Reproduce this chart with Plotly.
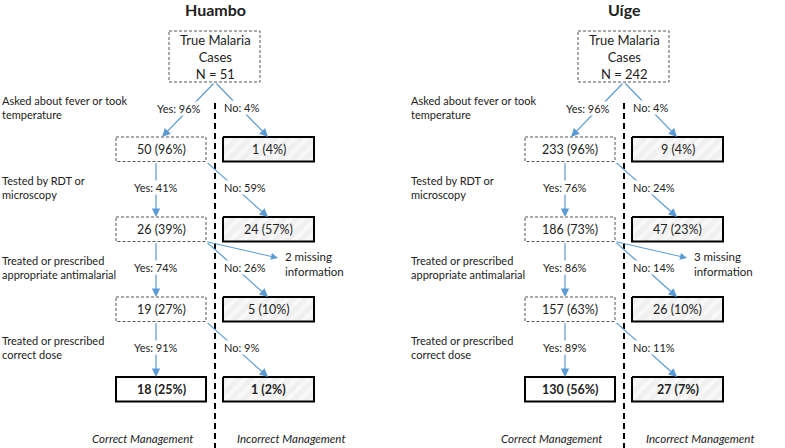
import plotly.graph_objects as go

# ---- data ----
sites = ['Huambo', 'Uíge']
totals = [51, 242]
step_labels = [
    'Asked about fever or took<br>temperature',
    'Tested by RDT or<br>microscopy',
    'Treated or prescribed<br>appropriate antimalarial',
    'Treated or prescribed<br>correct dose',
]
yes_pct = [[96, 41, 74, 91], [96, 76, 86, 89]]
no_pct = [[4, 59, 26, 9], [4, 24, 14, 11]]
correct_n = [[50, 26, 19, 18], [233, 186, 157, 130]]
correct_pct = [[96, 39, 27, 25], [96, 73, 63, 56]]
incorrect_n = [[1, 24, 5, 1], [9, 47, 26, 27]]
incorrect_pct = [[4, 57, 10, 2], [4, 23, 10, 7]]
missing = [2, 3]

# ---- layout constants (pixel space) ----
W, H = 785, 448
FONT = 'Lato, Open Sans, sans-serif'
TXT = '#222222'
BLUE = '#5b9bd5'
OFFSETS = [0, 409]
ROW_TOP = [137, 217, 297, 377]
BOX_H = 24.5
LX0, LX1 = 116, 206
RX0, RX1 = 223, 314
DIV_X = 215

fig = go.Figure()
shapes = []


def text(x, y, s, size=11, xanchor='center', bold=False, italic=False, bg=None):
    if bold:
        s = '<b>' + s + '</b>'
    if italic:
        s = '<i>' + s + '</i>'
    a = dict(x=x, y=y, xref='x', yref='y', text=s, showarrow=False,
             xanchor=xanchor, yanchor='middle', align=xanchor if xanchor != 'center' else 'center',
             font=dict(family=FONT, size=size, color=TXT))
    if bg:
        a['bgcolor'] = bg
        a['borderpad'] = 0
    return a


def arrow(x0, y0, x1, y1, width=1.2):
    return dict(x=x1, y=y1, ax=x0, ay=y0, xref='x', yref='y', axref='x', ayref='y',
                text='', showarrow=True, arrowhead=2, arrowsize=1.4, arrowwidth=width,
                arrowcolor=BLUE, standoff=0, startstandoff=0)


arrows = []
labels = []

for s, off in enumerate(OFFSETS):
    cx = DIV_X + off
    # title
    labels.append(text(cx, 9, sites[s], size=16, bold=True))
    # top box
    shapes.append(dict(type='rect', x0=169 + off, x1=260 + off, y0=31, y1=82,
                       line=dict(color='#555555', width=1, dash='3px,2px'), fillcolor='white'))
    labels.append(text(cx, 57, 'True Malaria<br>Cases<br>N = %d' % totals[s], size=13))
    # divider
    shapes.append(dict(type='line', x0=cx, x1=cx, y0=103, y1=H,
                       line=dict(color='black', width=2, dash='6px,4px')))

    for r in range(4):
        y0 = ROW_TOP[r]
        y1 = y0 + BOX_H
        ym = (y0 + y1) / 2
        last = r == 3
        # left (correct) box
        if last:
            shapes.append(dict(type='rect', x0=LX0 + off, x1=LX1 + off, y0=y0, y1=y1,
                               line=dict(color='black', width=2), fillcolor='white'))
        else:
            shapes.append(dict(type='rect', x0=LX0 + off, x1=LX1 + off, y0=y0, y1=y1,
                               line=dict(color='#555555', width=1, dash='3px,2px'),
                               fillcolor='white'))
        labels.append(text((LX0 + LX1) / 2 + off, ym,
                           '%d (%d%%)' % (correct_n[s][r], correct_pct[s][r]),
                           size=12.5, bold=last))
        # right (incorrect) hatched box
        fig.add_trace(go.Scatter(
            x=[RX0 + off, RX1 + off, RX1 + off, RX0 + off, RX0 + off],
            y=[y0, y0, y1, y1, y0], mode='lines', fill='toself',
            fillcolor='#f2f2f2',
            fillpattern=dict(shape='/', fgcolor='white', bgcolor='#f0f0f0', size=9, solidity=0.45),
            line=dict(color='black', width=2), hoverinfo='skip', showlegend=False))
        labels.append(text((RX0 + RX1) / 2 + off, ym,
                           '%d (%d%%)' % (incorrect_n[s][r], incorrect_pct[s][r]),
                           size=12.5, bold=last))

        # step label on the left
        labels.append(text(0 + off, y0 - 30, step_labels[r], size=11, xanchor='left'))

        # arrows + yes/no labels
        if r == 0:
            arrows.append(arrow(cx, 82, 162 + off, y0))
            arrows.append(arrow(cx, 82, 268 + off, y0))
            labels.append(text(179 + off, 108, 'Yes: %d%%' % yes_pct[s][r], bg='white'))
        else:
            py1 = ROW_TOP[r - 1] + BOX_H
            arrows.append(arrow(156 + off, py1, 156 + off, y0))
            arrows.append(arrow(LX1 + off, py1, 268 + off, y0))
            labels.append(text(156 + off, y0 - 30, 'Yes: %d%%' % yes_pct[s][r], bg='white'))
        labels.append(text(223 + off, y0 - 30, 'No: %d%%' % no_pct[s][r], xanchor='left', bg='white'))

    # missing information branch
    arrows.append(arrow(LX1 + off, ROW_TOP[1] + BOX_H, 278 + off, 258, width=1))
    labels.append(text(283 + off, 264, '%d missing<br>information' % missing[s], size=11.5, xanchor='left'))

    # bottom captions
    labels.append(text(142 + off, 438, 'Correct Management', size=11.5, italic=True))
    labels.append(text(291 + off, 438, 'Incorrect Management', size=11.5, italic=True))

fig.update_layout(
    width=W, height=H,
    margin=dict(l=0, r=0, t=0, b=0),
    paper_bgcolor='white', plot_bgcolor='white',
    xaxis=dict(range=[0, W], visible=False, fixedrange=True),
    yaxis=dict(range=[H, 0], visible=False, fixedrange=True),
    shapes=shapes,
    annotations=arrows + labels,
    showlegend=False,
)

# page body has a default margin; drop it so the figure fills the window
fig.write_html('out.html', config={'displayModeBar': False},
               post_script="document.body.style.margin='0';document.body.style.overflow='hidden';")
